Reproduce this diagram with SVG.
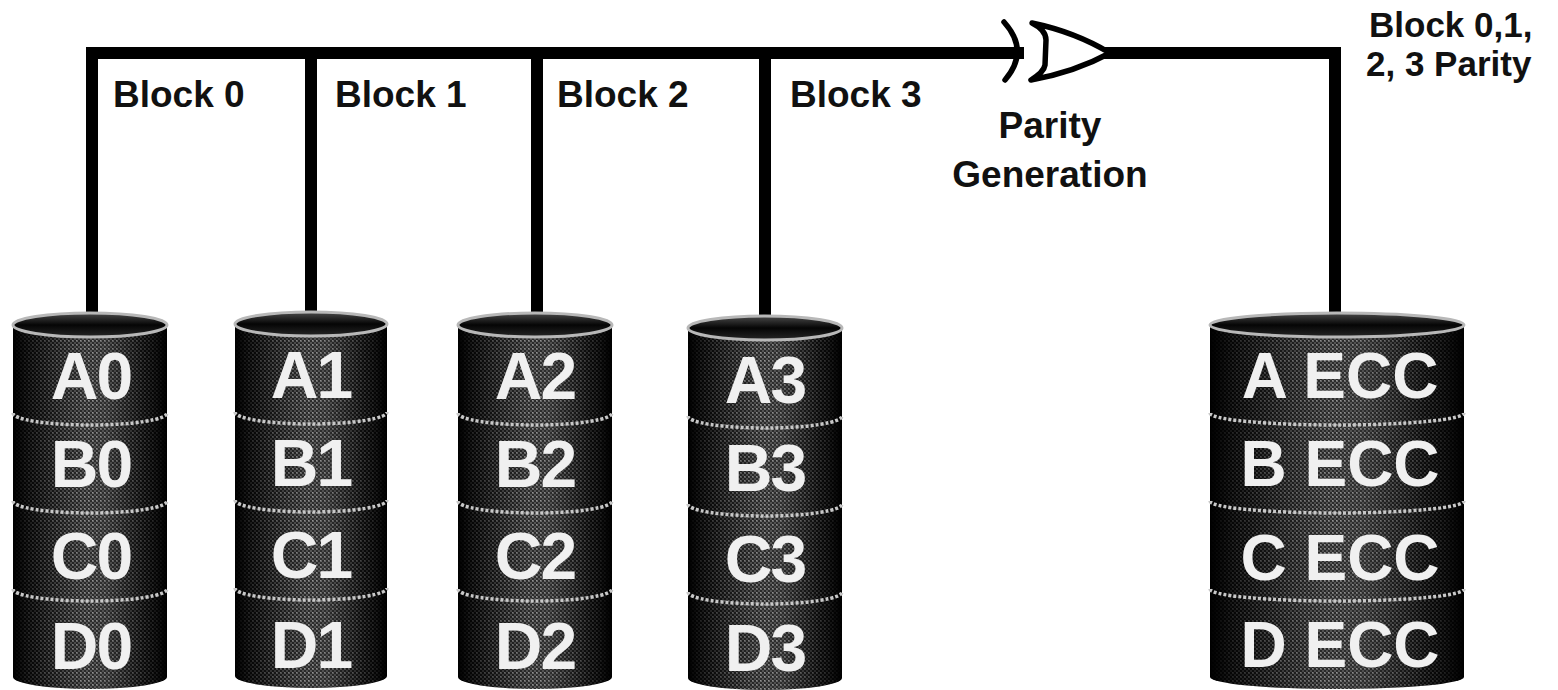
<svg xmlns="http://www.w3.org/2000/svg" width="1558" height="690" viewBox="0 0 1558 690">
  <style>
    .wire { fill: none; stroke: #000; stroke-width: 12; stroke-linecap: square; stroke-linejoin: miter; }
    .gate { fill: #fff; stroke: #000; stroke-width: 5.5; stroke-linejoin: round; stroke-linecap: round; }
    .gate-back { fill: none; stroke: #000; stroke-width: 5.5; stroke-linecap: round; }
    .label { font-family: "Liberation Sans", Arial, sans-serif; font-weight: bold; font-size: 37px; fill: #111; }
    .label-sm { font-family: "Liberation Sans", Arial, sans-serif; font-weight: bold; font-size: 35px; fill: #111; }
    .disk-text { font-family: "Liberation Sans", Arial, sans-serif; font-weight: bold; font-size: 66px; fill: #f0f0f0; text-anchor: middle; letter-spacing: -2px; }
    .ecc-text { font-family: "Liberation Sans", Arial, sans-serif; font-weight: bold; font-size: 64px; fill: #f0f0f0; text-anchor: middle; }
    .body { fill: url(#shade); }
    .grain { fill: url(#dither); }
    .rim { fill: url(#capShade); stroke: #b8b8b8; stroke-width: 3; }
    .rim-front { fill: none; stroke: #c8c8c8; stroke-width: 3.5; stroke-dasharray: 3 2; }
  </style>
  <defs>
    <linearGradient id="shade" x1="0" y1="0" x2="1" y2="0">
      <stop offset="0" stop-color="#000"/>
      <stop offset="0.15" stop-color="#0a0a0a"/>
      <stop offset="0.45" stop-color="#2a2a2a"/>
      <stop offset="0.6" stop-color="#2e2e2e"/>
      <stop offset="0.85" stop-color="#0a0a0a"/>
      <stop offset="1" stop-color="#000"/>
    </linearGradient>
    <linearGradient id="capShade" x1="0" y1="0" x2="0" y2="1">
      <stop offset="0" stop-color="#4a4a4a"/>
      <stop offset="0.5" stop-color="#050505"/>
      <stop offset="1" stop-color="#262626"/>
    </linearGradient>
    <!-- halftone grain laid over the disk bodies -->
    <pattern id="dither" width="4" height="4" patternUnits="userSpaceOnUse">
      <rect x="0" y="0" width="2" height="2" fill="#8c8c8c"/>
      <rect x="2" y="2" width="2" height="2" fill="#6a6a6a"/>
      <rect x="0" y="0" width="1" height="1" fill="#c4c4c4"/>
    </pattern>
    <linearGradient id="grainFade" x1="0" y1="0" x2="1" y2="0">
      <stop offset="0" stop-color="#000"/>
      <stop offset="0.1" stop-color="#333"/>
      <stop offset="0.5" stop-color="#b0b0b0"/>
      <stop offset="0.9" stop-color="#333"/>
      <stop offset="1" stop-color="#000"/>
    </linearGradient>
    <mask id="fade" maskContentUnits="objectBoundingBox">
      <rect x="0" y="0" width="1" height="1" fill="url(#grainFade)"/>
    </mask>
  </defs>

  <!-- bus wiring into the parity gate and out to the parity disk -->
  <g id="connectors">
    <path class="wire" d="M92,318 V53 H1018"/>
    <path class="wire" d="M311,53 V316"/>
    <path class="wire" d="M537,53 V318"/>
    <path class="wire" d="M765,53 V322"/>
    <path class="wire" d="M1108,53 H1335 V318"/>
  </g>

  <g id="parity-gate">
    <path class="gate-back" d="M1004,22 Q1030,51 1005,80"/>
    <path class="gate" d="M1032,23 Q1046,30 1046,40 L1045,65 Q1044,72 1031,80 Q1075,72 1110,53 Q1075,32 1032,23 Z"/>
  </g>

  <!-- labels -->
  <g id="block-labels">
    <text class="label" x="113" y="107">Block 0</text>
    <text class="label" x="335" y="107">Block 1</text>
    <text class="label" x="557" y="107">Block 2</text>
    <text class="label" x="790" y="107">Block 3</text>
  </g>
  <g id="gate-label">
    <text class="label" x="1050" y="138" text-anchor="middle">Parity</text>
    <text class="label" x="1050" y="187" text-anchor="middle">Generation</text>
  </g>
  <g id="parity-label">
    <text class="label-sm" x="1369" y="37">Block 0,1,</text>
    <text class="label-sm" x="1366" y="76">2, 3 Parity</text>
  </g>

  <!-- disk 0 -->
  <g id="disk0">
    <path class="body" d="M13,589 V677 A77,12 0 0 0 167,677 V589 Z"/>
    <path class="grain" mask="url(#fade)" d="M13,589 V677 A77,12 0 0 0 167,677 V589 Z"/>
    <path class="body" d="M13,501 V589 A77,12 0 0 0 167,589 V501 Z"/>
    <path class="grain" mask="url(#fade)" d="M13,501 V589 A77,12 0 0 0 167,589 V501 Z"/>
    <path class="body" d="M13,413 V501 A77,12 0 0 0 167,501 V413 Z"/>
    <path class="grain" mask="url(#fade)" d="M13,413 V501 A77,12 0 0 0 167,501 V413 Z"/>
    <path class="body" d="M13,325 V413 A77,12 0 0 0 167,413 V325 Z"/>
    <path class="grain" mask="url(#fade)" d="M13,325 V413 A77,12 0 0 0 167,413 V325 Z"/>
    <ellipse class="rim" cx="90" cy="325" rx="77" ry="12"/>
    <path class="rim-front" d="M13,413 A77,12 0 0 0 167,413"/>
    <path class="rim-front" d="M13,501 A77,12 0 0 0 167,501"/>
    <path class="rim-front" d="M13,589 A77,12 0 0 0 167,589"/>
    <text class="disk-text" x="91" y="399">A0</text>
    <text class="disk-text" x="91" y="487">B0</text>
    <text class="disk-text" x="91" y="579">C0</text>
    <text class="disk-text" x="91" y="669">D0</text>
  </g>

  <!-- disk 1 -->
  <g id="disk1">
    <path class="body" d="M235,588 V676 A76,12 0 0 0 387,676 V588 Z"/>
    <path class="grain" mask="url(#fade)" d="M235,588 V676 A76,12 0 0 0 387,676 V588 Z"/>
    <path class="body" d="M235,500 V588 A76,12 0 0 0 387,588 V500 Z"/>
    <path class="grain" mask="url(#fade)" d="M235,500 V588 A76,12 0 0 0 387,588 V500 Z"/>
    <path class="body" d="M235,412 V500 A76,12 0 0 0 387,500 V412 Z"/>
    <path class="grain" mask="url(#fade)" d="M235,412 V500 A76,12 0 0 0 387,500 V412 Z"/>
    <path class="body" d="M235,324 V412 A76,12 0 0 0 387,412 V324 Z"/>
    <path class="grain" mask="url(#fade)" d="M235,324 V412 A76,12 0 0 0 387,412 V324 Z"/>
    <ellipse class="rim" cx="311" cy="324" rx="76" ry="12"/>
    <path class="rim-front" d="M235,412 A76,12 0 0 0 387,412"/>
    <path class="rim-front" d="M235,500 A76,12 0 0 0 387,500"/>
    <path class="rim-front" d="M235,588 A76,12 0 0 0 387,588"/>
    <text class="disk-text" x="311" y="398">A1</text>
    <text class="disk-text" x="311" y="486">B1</text>
    <text class="disk-text" x="311" y="578">C1</text>
    <text class="disk-text" x="311" y="668">D1</text>
  </g>

  <!-- disk 2 -->
  <g id="disk2">
    <path class="body" d="M458,589 V677 A77,12 0 0 0 612,677 V589 Z"/>
    <path class="grain" mask="url(#fade)" d="M458,589 V677 A77,12 0 0 0 612,677 V589 Z"/>
    <path class="body" d="M458,501 V589 A77,12 0 0 0 612,589 V501 Z"/>
    <path class="grain" mask="url(#fade)" d="M458,501 V589 A77,12 0 0 0 612,589 V501 Z"/>
    <path class="body" d="M458,413 V501 A77,12 0 0 0 612,501 V413 Z"/>
    <path class="grain" mask="url(#fade)" d="M458,413 V501 A77,12 0 0 0 612,501 V413 Z"/>
    <path class="body" d="M458,325 V413 A77,12 0 0 0 612,413 V325 Z"/>
    <path class="grain" mask="url(#fade)" d="M458,325 V413 A77,12 0 0 0 612,413 V325 Z"/>
    <ellipse class="rim" cx="535" cy="325" rx="77" ry="12"/>
    <path class="rim-front" d="M458,413 A77,12 0 0 0 612,413"/>
    <path class="rim-front" d="M458,501 A77,12 0 0 0 612,501"/>
    <path class="rim-front" d="M458,589 A77,12 0 0 0 612,589"/>
    <text class="disk-text" x="535" y="399">A2</text>
    <text class="disk-text" x="535" y="487">B2</text>
    <text class="disk-text" x="535" y="579">C2</text>
    <text class="disk-text" x="535" y="669">D2</text>
  </g>

  <!-- disk 3 -->
  <g id="disk3">
    <path class="body" d="M688,592 V678 A77,12 0 0 0 842,678 V592 Z"/>
    <path class="grain" mask="url(#fade)" d="M688,592 V678 A77,12 0 0 0 842,678 V592 Z"/>
    <path class="body" d="M688,504 V592 A77,12 0 0 0 842,592 V504 Z"/>
    <path class="grain" mask="url(#fade)" d="M688,504 V592 A77,12 0 0 0 842,592 V504 Z"/>
    <path class="body" d="M688,416 V504 A77,12 0 0 0 842,504 V416 Z"/>
    <path class="grain" mask="url(#fade)" d="M688,416 V504 A77,12 0 0 0 842,504 V416 Z"/>
    <path class="body" d="M688,328 V416 A77,12 0 0 0 842,416 V328 Z"/>
    <path class="grain" mask="url(#fade)" d="M688,328 V416 A77,12 0 0 0 842,416 V328 Z"/>
    <ellipse class="rim" cx="765" cy="328" rx="77" ry="12"/>
    <path class="rim-front" d="M688,416 A77,12 0 0 0 842,416"/>
    <path class="rim-front" d="M688,504 A77,12 0 0 0 842,504"/>
    <path class="rim-front" d="M688,592 A77,12 0 0 0 842,592"/>
    <text class="disk-text" x="765" y="403">A3</text>
    <text class="disk-text" x="765" y="491">B3</text>
    <text class="disk-text" x="765" y="582">C3</text>
    <text class="disk-text" x="765" y="671">D3</text>
  </g>

  <!-- parity disk -->
  <g id="disk-parity">
    <path class="body" d="M1210,589 V677 A127,12 0 0 0 1464,677 V589 Z"/>
    <path class="grain" mask="url(#fade)" d="M1210,589 V677 A127,12 0 0 0 1464,677 V589 Z"/>
    <path class="body" d="M1210,501 V589 A127,12 0 0 0 1464,589 V501 Z"/>
    <path class="grain" mask="url(#fade)" d="M1210,501 V589 A127,12 0 0 0 1464,589 V501 Z"/>
    <path class="body" d="M1210,413 V501 A127,12 0 0 0 1464,501 V413 Z"/>
    <path class="grain" mask="url(#fade)" d="M1210,413 V501 A127,12 0 0 0 1464,501 V413 Z"/>
    <path class="body" d="M1210,325 V413 A127,12 0 0 0 1464,413 V325 Z"/>
    <path class="grain" mask="url(#fade)" d="M1210,325 V413 A127,12 0 0 0 1464,413 V325 Z"/>
    <ellipse class="rim" cx="1337" cy="325" rx="127" ry="12"/>
    <path class="rim-front" d="M1210,413 A127,12 0 0 0 1464,413"/>
    <path class="rim-front" d="M1210,501 A127,12 0 0 0 1464,501"/>
    <path class="rim-front" d="M1210,589 A127,12 0 0 0 1464,589"/>
    <text class="ecc-text" x="1340" y="398">A ECC</text>
    <text class="ecc-text" x="1340" y="486">B ECC</text>
    <text class="ecc-text" x="1340" y="580">C ECC</text>
    <text class="ecc-text" x="1340" y="667">D ECC</text>
  </g>
</svg>
